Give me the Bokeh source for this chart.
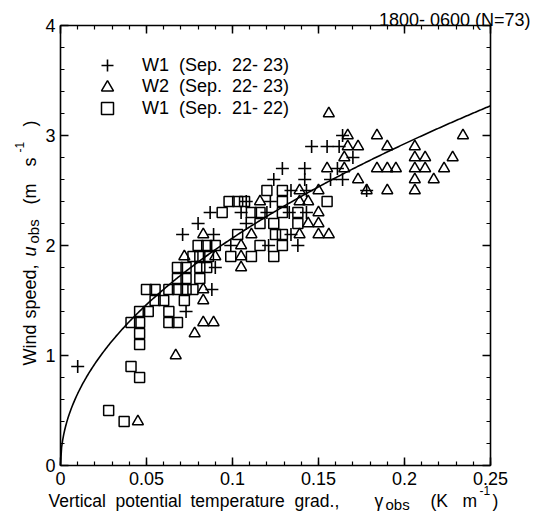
import numpy as np
from bokeh.plotting import figure
from bokeh.models import (Range1d, LinearAxis, Label, Legend, LegendItem, FixedTicker)
from bokeh.embed import file_html
from bokeh.resources import INLINE

# ---------------- data ----------------
# W1 (Sep. 22-23)  (+)
w1a_x = [0.010, 0.073, 0.088, 0.090, 0.071, 0.089, 0.080, 0.108, 0.087, 0.105,
         0.120, 0.133, 0.143, 0.108, 0.122, 0.134, 0.143, 0.124, 0.142, 0.157,
         0.164, 0.129, 0.142, 0.161, 0.170, 0.146, 0.155, 0.162, 0.164, 0.178,
         0.099, 0.138, 0.134, 0.121]
w1a_y = [0.9, 1.4, 1.6, 1.8, 2.1, 2.1, 2.2, 2.2, 2.3, 2.3,
         2.3, 2.3, 2.3, 2.4, 2.4, 2.5, 2.5, 2.6, 2.6, 2.6,
         2.6, 2.7, 2.7, 2.7, 2.8, 2.9, 2.9, 2.9, 3.0, 2.5,
         2.0, 2.0, 2.1, 2.0]

# W2 (Sep. 22-23)  (triangles)
w2_x = [0.045, 0.067, 0.078, 0.083, 0.089, 0.083, 0.083, 0.072, 0.090, 0.105,
        0.105, 0.105, 0.083, 0.111, 0.139, 0.150, 0.156, 0.144, 0.150, 0.150,
        0.116, 0.139, 0.144, 0.139, 0.150, 0.155, 0.165, 0.165, 0.156, 0.167,
        0.167, 0.173, 0.173, 0.178, 0.184, 0.190, 0.184, 0.190, 0.195, 0.190,
        0.206, 0.206, 0.212, 0.206, 0.212, 0.206, 0.206, 0.217, 0.223, 0.228,
        0.234]
w2_y = [0.4, 1.0, 1.2, 1.3, 1.3, 1.5, 1.6, 1.9, 1.9, 1.8,
        1.9, 2.0, 2.1, 2.1, 2.1, 2.1, 2.1, 2.2, 2.2, 2.3,
        2.4, 2.4, 2.4, 2.5, 2.5, 2.7, 2.7, 2.8, 3.2, 3.0,
        2.9, 2.9, 2.6, 2.5, 3.0, 2.9, 2.7, 2.7, 2.7, 2.5,
        2.9, 2.8, 2.8, 2.7, 2.7, 2.6, 2.5, 2.6, 2.7, 2.8,
        3.0]

# W1 (Sep. 21-22)  (squares)
w1b_x = [0.028, 0.037, 0.041, 0.046, 0.046, 0.046, 0.041, 0.046, 0.046, 0.051,
         0.050, 0.055, 0.055, 0.060, 0.063, 0.063, 0.068, 0.063, 0.068, 0.073,
         0.077, 0.072, 0.068, 0.073, 0.068, 0.073, 0.081, 0.081, 0.085, 0.077,
         0.081, 0.086, 0.099, 0.111, 0.124, 0.080, 0.085, 0.090, 0.116, 0.129,
         0.103, 0.125, 0.129, 0.116, 0.124, 0.138, 0.094, 0.111, 0.116, 0.129,
         0.138, 0.098, 0.103, 0.107, 0.129, 0.155, 0.120, 0.129]
w1b_y = [0.5, 0.4, 0.9, 0.8, 1.1, 1.2, 1.3, 1.3, 1.4, 1.4,
         1.6, 1.6, 1.5, 1.5, 1.4, 1.3, 1.3, 1.6, 1.6, 1.6,
         1.6, 1.5, 1.7, 1.7, 1.8, 1.8, 1.7, 1.8, 1.8, 1.9,
         1.9, 1.9, 1.9, 1.9, 1.9, 2.0, 2.0, 2.0, 2.0, 2.0,
         2.1, 2.1, 2.1, 2.2, 2.2, 2.2, 2.3, 2.3, 2.3, 2.3,
         2.3, 2.4, 2.4, 2.4, 2.4, 2.4, 2.5, 2.5]

# fitted curve  u = A * gamma**B
FIT_A = 6.54
FIT_B = 0.5

legend_labels = ["W1\u00a0 (Sep.\u00a0 22-\u00a023)",
                 "W2\u00a0 (Sep.\u00a0 22-\u00a023)",
                 "W1\u00a0 (Sep.\u00a0 21-\u00a022)"]
x_ticks = [0, 0.05, 0.1, 0.15, 0.2, 0.25]
x_tick_labels = ["0", "0.05", "0.1", "0.15", "0.2", "0.25"]
y_ticks = [0, 1, 2, 3, 4]
y_tick_labels = ["0", "1", "2", "3", "4"]
X0, X1 = 0.0, 0.25
Y0, Y1 = 0.0, 4.0
title_text = "1800- 0600 (N=73)"

# ---------------- geometry ----------------
FONT = "Liberation Sans"
W, H = 537, 519
PL, PR, PT, PB = 60, 490, 25, 465   # plot box edges on the page (px)
sx = (X1 - X0) / (PR - PL)
sy = (Y1 - Y0) / (PB - PT)
x_range = Range1d(X0 - PL * sx, X1 + (W - PR) * sx)
y_range = Range1d(Y0 - (H - PB) * sy, Y1 + PT * sy)

p = figure(width=W, height=H, x_range=x_range, y_range=y_range,
           output_backend="svg", toolbar_location=None,
           min_border=0, min_border_left=0, min_border_right=0,
           min_border_top=0, min_border_bottom=0)
p.grid.visible = False
p.outline_line_color = None
p.background_fill_color = "white"
p.border_fill_color = "white"

xt = FixedTicker(ticks=x_ticks, minor_ticks=list(np.round(np.arange(X0, X1 + 1e-9, 0.01), 3)))
yt = FixedTicker(ticks=y_ticks, minor_ticks=list(np.round(np.arange(Y0, Y1 + 1e-9, 0.2), 2)))


def style_axis(ax, ticker, loc, bounds, show_labels, overrides=None):
    ax.ticker = ticker
    ax.fixed_location = loc
    ax.bounds = bounds
    ax.axis_label = None
    ax.axis_line_color = "black"
    ax.axis_line_width = 1.6
    ax.major_tick_line_width = 1.5
    ax.minor_tick_line_width = 1.2
    ax.major_tick_in = 8
    ax.major_tick_out = 0
    ax.minor_tick_in = 4
    ax.minor_tick_out = 0
    ax.major_tick_line_color = "black"
    ax.minor_tick_line_color = "black"
    if show_labels:
        ax.major_label_text_font = FONT
        ax.major_label_text_font_size = "18px"
        ax.major_label_text_color = "black"
        ax.major_label_overrides = overrides
    else:
        ax.major_label_text_font_size = "0px"
        ax.major_label_text_color = None
        ax.major_label_standoff = 0


style_axis(p.xaxis[0], xt, Y0, (X0, X1), True,
           {float(t): s for t, s in zip(x_ticks, x_tick_labels)})
style_axis(p.yaxis[0], yt, X0, (Y0, Y1), True,
           {float(t): s for t, s in zip(y_ticks, y_tick_labels)})
p.xaxis[0].major_label_standoff = 6
p.yaxis[0].major_label_standoff = 5
top_ax = LinearAxis()
right_ax = LinearAxis()
style_axis(top_ax, xt, Y1, (X0, X1), False)
style_axis(right_ax, yt, X1, (Y0, Y1), False)
p.add_layout(top_ax, "above")
p.add_layout(right_ax, "right")

# fitted curve
gx = np.linspace(X0, X1, 400)
p.line(gx, FIT_A * gx ** FIT_B, line_color="black", line_width=1.6)

r1 = p.scatter(w1a_x, w1a_y, marker="cross", size=13, line_color="black", line_width=1.6)
r2 = p.scatter(w2_x, w2_y, marker="triangle", size=11, line_color="black",
               line_width=1.5, fill_color=None)
r3 = p.scatter(w1b_x, w1b_y, marker="square", size=10, line_color="black",
               line_width=1.5, fill_color=None)

# legend: one single-item legend per row, placed in screen px
LEG_GH = 30
leg_rows_y = [65, 86.5, 108]       # row centres (page px)
LEG_GLYPH_X = 107                  # glyph centre (page px)
LEG_TEXT_X = 142                   # text start (page px)
for lbl, rr, cy in zip(legend_labels, [r1, r2, r3], leg_rows_y):
    gw = 36
    lg = Legend(items=[LegendItem(label=lbl, renderers=[rr])],
                location=(LEG_GLYPH_X - gw / 2, H - (cy - LEG_GH / 2) - LEG_GH),
                margin=0, padding=0, spacing=0,
                glyph_width=gw, glyph_height=LEG_GH, label_height=LEG_GH,
                label_standoff=int(LEG_TEXT_X - (LEG_GLYPH_X + gw / 2)),
                label_text_font=FONT, label_text_font_size="18px",
                label_text_color="black", label_text_baseline="middle",
                border_line_color=None, background_fill_alpha=0)
    p.add_layout(lg)

# ---------------- texts (page px -> data coords) ----------------


def dx(px):
    return X0 + (px - PL) * sx


def dy(py):
    return Y0 + (PB - py) * sy


def lab(text, px, py, size, align="left", angle=0.0, style="normal"):
    p.add_layout(Label(x=dx(px), y=dy(py), text=text, text_font=FONT,
                       text_font_size=f"{size}px", text_align=align,
                       text_baseline="alphabetic", angle=angle,
                       text_font_style=style, text_color="black"))


# x-axis label pieces
XB = 500
for t, px in [("Vertical", 48), ("potential", 115), ("temperature", 190),
              ("grad.,", 294), ("\u03b3", 374), ("(K", 430), ("m", 462), (")", 492)]:
    lab(t, px, XB, 17.5)
lab("obs", 385, XB + 4, 15)
lab("-1", 479, XB - 10, 12)

# y-axis label pieces (rotated)
A = np.pi / 2
YB = 29
for t, py in [("Wind", 365), ("speed,", 318), ("(m", 204), ("s", 166), (")", 126)]:
    lab(t, YB, py, 18, angle=A)
lab("u", YB, 256, 18, angle=A, style="italic")
lab("obs", YB + 4, 243, 15, angle=A)
lab("-1", YB - 10, 152, 12, angle=A)

# title
lab(title_text, 530, 19, 18, align="right")

open("out.html", "w").write(file_html(p, INLINE))
